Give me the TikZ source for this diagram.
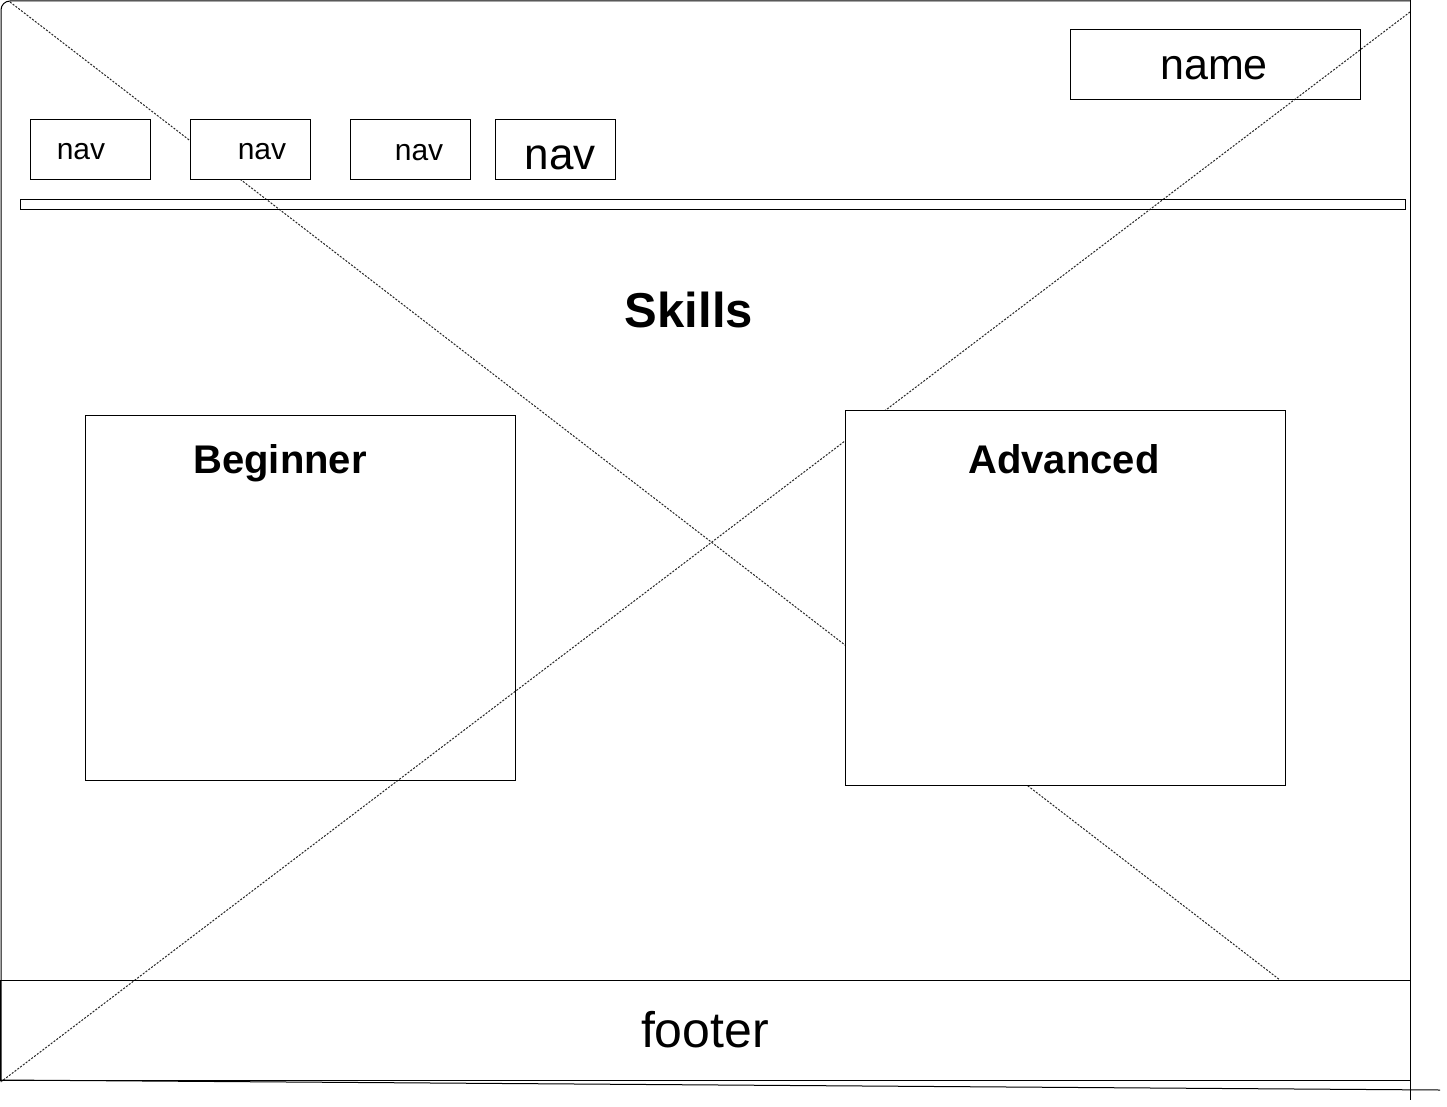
\documentclass[tikz,border=0pt]{standalone}
\usepackage{fontspec}
\setmainfont{Liberation Sans}
\begin{document}
\begin{tikzpicture}[x=1pt,y=-1pt,
  box/.style={draw=black,line width=1pt,inner sep=0pt,outer sep=0pt},
  wbox/.style={box,fill=white},
  guide/.style={draw=black!85,line width=1pt,dash pattern=on 2pt off 1.5pt},
  txt/.style={inner sep=0pt,anchor=base},
  frame/.style={draw=black,line width=1pt}]
\useasboundingbox (0,0) rectangle (1447,1107);
\fill[white] (0,0) rectangle (1447,1107);
% guide diagonals
\coordinate (tl) at (10,2);
\coordinate (br) at (1280,980);
\coordinate (tr) at (1410,12);
\coordinate (bl) at (2,1081);
\draw[guide] (tl) -- (br);
\draw[guide] (tr) -- (bl);
% frame
\coordinate (f1) at (1,1082);
\coordinate (f2) at (1,1);
\coordinate (f3) at (1410,1);
\draw[frame,rounded corners=9pt] (f1) -- (f2) -- (f3);
\coordinate (r1) at (1410,0);
\coordinate (r2) at (1410,1100);
\draw[frame] (r1) -- (r2);
\coordinate (b1) at (0,1080);
\coordinate (b2) at (1440,1090);
\draw[frame] (b1) -- (b2);
% footer
\node[box,minimum width=1410,minimum height=100] (footer) at (705,1030) {};
% header bar
\node[box,minimum width=1385,minimum height=10] (bar) at (712.5,205) {};
% nav boxes
\node[wbox,minimum width=120,minimum height=60] (nav1) at (90,150) {};
\node[wbox,minimum width=120,minimum height=60] (nav2) at (250,150) {};
\node[wbox,minimum width=120,minimum height=60] (nav3) at (410,150) {};
\node[wbox,minimum width=120,minimum height=60] (nav4) at (555,150) {};
% name
\node[box,minimum width=290,minimum height=70] (name) at (1215,65) {};
% skill boxes
\node[box,minimum width=430,minimum height=365] (beg) at (300,597.5) {};
\node[wbox,minimum width=440,minimum height=375] (adv) at (1065,597.5) {};
% texts
\node[txt,font=\fontsize{30}{36}\selectfont] (t1) at (81,160) {nav};
\node[txt,font=\fontsize{30}{36}\selectfont] (t2) at (262,160) {nav};
\node[txt,font=\fontsize{30}{36}\selectfont] (t3) at (419,161) {nav};
\node[txt,font=\fontsize{44}{52}\selectfont] (t4) at (560,170) {nav};
\node[txt,font=\fontsize{43}{52}\selectfont] (tname) at (1214,80) {name};
\node[txt,font=\fontsize{49}{58}\selectfont\bfseries] (tskills) at (689,327) {Skills};
\node[txt,font=\fontsize{40}{48}\selectfont\bfseries] (tbeg) at (280,473) {Beginner};
\node[txt,font=\fontsize{40}{48}\selectfont\bfseries] (tadv) at (1064,473) {Advanced};
\node[txt,font=\fontsize{50}{58}\selectfont] (tfoot) at (705,1047) {footer};
\end{tikzpicture}
\end{document}
